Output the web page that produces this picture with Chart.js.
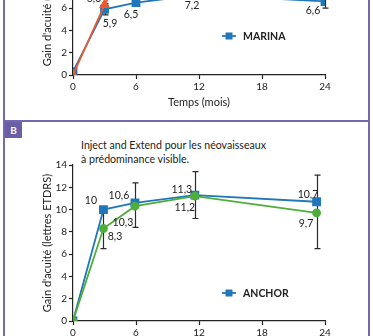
<!DOCTYPE html>
<html>
<head>
<meta charset="utf-8">
<script src="https://cdn.jsdelivr.net/npm/chart.js@4.4.0/dist/chart.umd.min.js"></script>
<style>
  html, body { margin: 0; padding: 0; background: #fff; }
  body { width: 373px; height: 336px; position: relative; overflow: hidden; font-family: Lato, sans-serif; color: #222; }
  canvas { position: absolute; left: 0; }
  #chartA { top: -106px; }
  #chartB { top: 140px; }
  .rule { position: absolute; background: #7468b0; }
  .tag { position: absolute; left: 5px; top: 122px; width: 17px; height: 16px; background: #6b5ea8; color: #fff;
         font: bold 10px Lato, sans-serif; line-height: 16px; text-align: center; }
  .subtitle { position: absolute; left: 81px; top: 139px; font-size: 10.6px; line-height: 13.5px; color: #222; }
</style>
</head>
<body>
<div class="rule" style="left:3px;top:0;width:2px;height:336px"></div>
<div class="rule" style="left:368px;top:0;width:2px;height:336px"></div>
<div class="rule" style="left:3px;top:120px;width:367px;height:2px"></div>
<div class="tag">B</div>
<div class="subtitle">Inject and Extend pour les néovaisseaux<br>à prédominance visible.</div>
<canvas id="chartA" width="373" height="216"></canvas>
<canvas id="chartB" width="373" height="216"></canvas>
<script>
// panneau A : MARINA (mensuel) et schéma PRN
const monthsA = [0, 3, 6, 12, 24];
const marina = [0.3, 5.9, 6.5, 7.2, 6.6];
const marinaLow = [null, 5.4, null, null, 6.0];
const marinaHigh = [null, 6.4, null, null, 7.2];
const monthsPrn = [0, 3, 6];
const prn = [0, 6.3, 11.0];

// panneau B : ANCHOR et Inject and Extend
const monthsB = [0, 2.9, 5.9, 11.6, 23.2];
const anchor = [0, 10, 10.6, 11.3, 10.7];
const injectExtend = [0, 8.3, 10.3, 11.2, 9.7];
const ieLow = [null, 6.5, 8.4, 9.2, 6.5];
const ieHigh = [null, 10.1, 12.4, 13.4, 13.1];

const xTicks = [0, 6, 12, 18, 24];
const yTicks = [0, 2, 4, 6, 8, 10, 12, 14];

const BLUE = '#2077b9', GREEN = '#4fae3b', ORANGE = '#eb5b2e', INK = '#222';

Chart.defaults.font.family = 'Lato, sans-serif';
Chart.defaults.color = INK;

function pts(xs, ys) { return xs.map((m, i) => ({x: m, y: ys[i]})); }

const errorBars = {
  id: 'errorBars',
  beforeDatasetsDraw(chart, args, opts) {
    const {ctx, scales: {x, y}} = chart;
    ctx.save();
    ctx.strokeStyle = '#2b2b2b';
    ctx.lineWidth = 1.2;
    (opts.bars || []).forEach(b => {
      b.months.forEach((m, i) => {
        if (b.low[i] == null) return;
        const px = Math.round(x.getPixelForValue(m)) + 0.5;
        const y1 = y.getPixelForValue(b.low[i]), y2 = y.getPixelForValue(b.high[i]);
        ctx.beginPath();
        ctx.moveTo(px, y1); ctx.lineTo(px, y2);
        ctx.moveTo(px - 3, y1); ctx.lineTo(px + 3, y1);
        ctx.moveTo(px - 3, y2); ctx.lineTo(px + 3, y2);
        ctx.stroke();
      });
    });
    ctx.restore();
  }
};

// valeurs écrites à côté des points, virgule décimale
const valueLabels = {
  id: 'valueLabels',
  afterDatasetsDraw(chart, args, opts) {
    const {ctx} = chart;
    ctx.save();
    ctx.font = '10.5px Lato, sans-serif';
    ctx.fillStyle = INK;
    ctx.textAlign = 'center';
    ctx.textBaseline = 'middle';
    (opts.offsets || []).forEach((offs, di) => {
      const meta = chart.getDatasetMeta(di);
      const data = chart.data.datasets[di].data;
      offs.forEach((o, i) => {
        if (!o) return;
        const p = meta.data[i];
        ctx.fillText(String(data[i].y).replace('.', ','), p.x + o[0], p.y + o[1]);
      });
    });
    ctx.restore();
  }
};

const insideLegend = {
  id: 'insideLegend',
  afterDraw(chart, args, opts) {
    const {ctx, chartArea} = chart;
    const x = chartArea.left + 149, y = chartArea.bottom - opts.up;
    ctx.save();
    ctx.strokeStyle = BLUE;
    ctx.lineWidth = 1.8;
    ctx.beginPath(); ctx.moveTo(x, y); ctx.lineTo(x + 14, y); ctx.stroke();
    ctx.fillStyle = BLUE;
    ctx.fillRect(x + 3.5, y - 3.5, 7, 7);
    ctx.fillStyle = INK;
    ctx.font = 'bold 10.5px Lato, sans-serif';
    ctx.textBaseline = 'middle';
    ctx.fillText(opts.text, x + 21, y + 0.5);
    ctx.restore();
  }
};

function scales(yTitle) {
  return {
    x: {
      type: 'linear', min: 0, max: 24,
      afterBuildTicks: s => { s.ticks = xTicks.map(v => ({value: v})); },
      ticks: {font: {size: 10}, color: INK, padding: 2, maxRotation: 0},
      grid: {drawOnChartArea: false, color: INK, tickLength: 4, tickWidth: 1.2},
      border: {color: INK, width: 1.2},
      title: {display: true, text: 'Temps (mois)', font: {size: 11}, color: INK, padding: {top: 2, bottom: 1}},
      afterFit: s => { s.height = 35; }
    },
    y: {
      min: 0, max: 14,
      afterBuildTicks: s => { s.ticks = yTicks.map(v => ({value: v})); },
      ticks: {font: {size: 10}, color: INK, padding: 2},
      grid: {drawOnChartArea: false, color: INK, tickLength: 4, tickWidth: 1.2},
      border: {color: INK, width: 1.2},
      title: {display: true, text: yTitle, font: {size: 11}, color: INK, padding: {top: 41, bottom: 0}},
      afterFit: s => { s.width = 73; }
    }
  };
}

function line(label, data, color, style, radius) {
  return {
    label, data, borderColor: color, backgroundColor: color, borderWidth: 1.8,
    pointStyle: style, pointRadius: radius, pointHoverRadius: radius, tension: 0
  };
}

const baseOptions = {
  responsive: false,
  animation: false,
  layout: {padding: {top: 25, right: 48, left: 0, bottom: 0}},
  events: []
};

new Chart(document.getElementById('chartA'), {
  type: 'line',
  data: {
    datasets: [
      line('PRN', pts(monthsPrn, prn), ORANGE, 'triangle', 4.5),
      line('MARINA', pts(monthsA, marina), BLUE, 'rect', 5)
    ]
  },
  options: Object.assign({}, baseOptions, {
    scales: scales("Gain d'acuité (lettres ETDRS)"),
    plugins: {
      legend: {display: false}, tooltip: {enabled: false},
      errorBars: {bars: [{months: monthsA, low: marinaLow, high: marinaHigh}]},
      valueLabels: {offsets: [
        [null, [-10.5, -6], null],
        [null, [5.5, 14.7], [-5, 12.4], [-7, 11.2], [-12, 9.5]]
      ]},
      insideLegend: {text: 'MARINA', up: 39}
    }
  }),
  plugins: [errorBars, valueLabels, insideLegend]
});

new Chart(document.getElementById('chartB'), {
  type: 'line',
  data: {
    datasets: [
      line('Inject and Extend', pts(monthsB, injectExtend), GREEN, 'circle', 3.5),
      line('ANCHOR', pts(monthsB, anchor), BLUE, 'rect', 5)
    ]
  },
  options: Object.assign({}, baseOptions, {
    scales: scales("Gain d'acuité (lettres ETDRS)"),
    plugins: {
      legend: {display: false}, tooltip: {enabled: false},
      errorBars: {bars: [{months: monthsB, low: ieLow, high: ieHigh}]},
      valueLabels: {offsets: [
        [null, [11.5, 8.5], [-12, 16.7], [-10, 11], [-10.6, 11]],
        [null, [-12.5, -8.6], [-16, -7], [-13, -5], [-8.6, -7]]
      ]},
      insideLegend: {text: 'ANCHOR', up: 28}
    }
  }),
  plugins: [errorBars, valueLabels, insideLegend]
});
</script>
</body>
</html>
